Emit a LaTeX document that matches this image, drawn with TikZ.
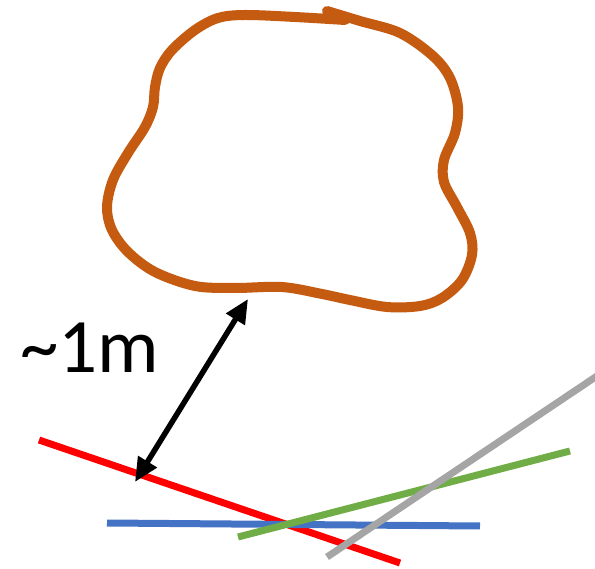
\documentclass[tikz,border=0pt]{standalone}
\usepackage{fontspec}
\setmainfont{Carlito}
\usetikzlibrary{arrows.meta}

\definecolor{blobclr}{HTML}{C55A11}
\definecolor{lineblue}{HTML}{4472C4}
\definecolor{linegreen}{HTML}{70AD47}
\definecolor{linegray}{HTML}{A5A5A5}

\begin{document}
\begin{tikzpicture}[x=1pt, y=-1pt, >={Triangle[length=24pt,width=21pt]},
  fitline/.style={line width=7pt}]
  \useasboundingbox (0,0) rectangle (595,569);
  % ---- Object outline ----
  \draw[blobclr, line width=10pt, line cap=round, line join=round]
    plot[smooth, tension=0.55] coordinates {
      (327,11) (360,21) (400,33) (433,56) (450,78) (458,107) (455,133)
      (444,160) (444,182) (457,207) (470,233) (472,255) (462,280)
      (442,298) (420,306) (387,307) (350,300) (322,294) (282,287)
      (235,288) (195,286) (155,272) (128,252) (112,230) (107,207)
      (113,180) (128,153) (145,127) (153,107) (155,87) (160,68)
      (172,50) (195,30) (218,18) (245,15) (295,17) (345,20)};
  % ---- Fitted lines ----
  \coordinate (redA) at (39,440);
  \coordinate (redB) at (400,563);
  \coordinate (blueA) at (107,523);
  \coordinate (blueB) at (480,526);
  \coordinate (greenA) at (238,537);
  \coordinate (greenB) at (570,451);
  \coordinate (grayA) at (327,557);
  \coordinate (grayB) at (597,376);
  \draw[fitline, red] (redA) -- (redB);
  \draw[fitline, lineblue] (blueA) -- (blueB);
  \draw[fitline, linegreen] (greenA) -- (greenB);
  \draw[fitline, linegray] (grayA) -- (grayB);
  % ---- Distance ----
  \coordinate (redhit) at (135,482);
  \coordinate (blobgap) at (248,299);
  \draw[<->, line width=5.5pt] (redhit) -- (blobgap);
  \node[anchor=base west, inner sep=0pt, font=\fontsize{77}{84}\selectfont]
    (dist) at (20,373) {\textasciitilde 1m};
\end{tikzpicture}
\end{document}
